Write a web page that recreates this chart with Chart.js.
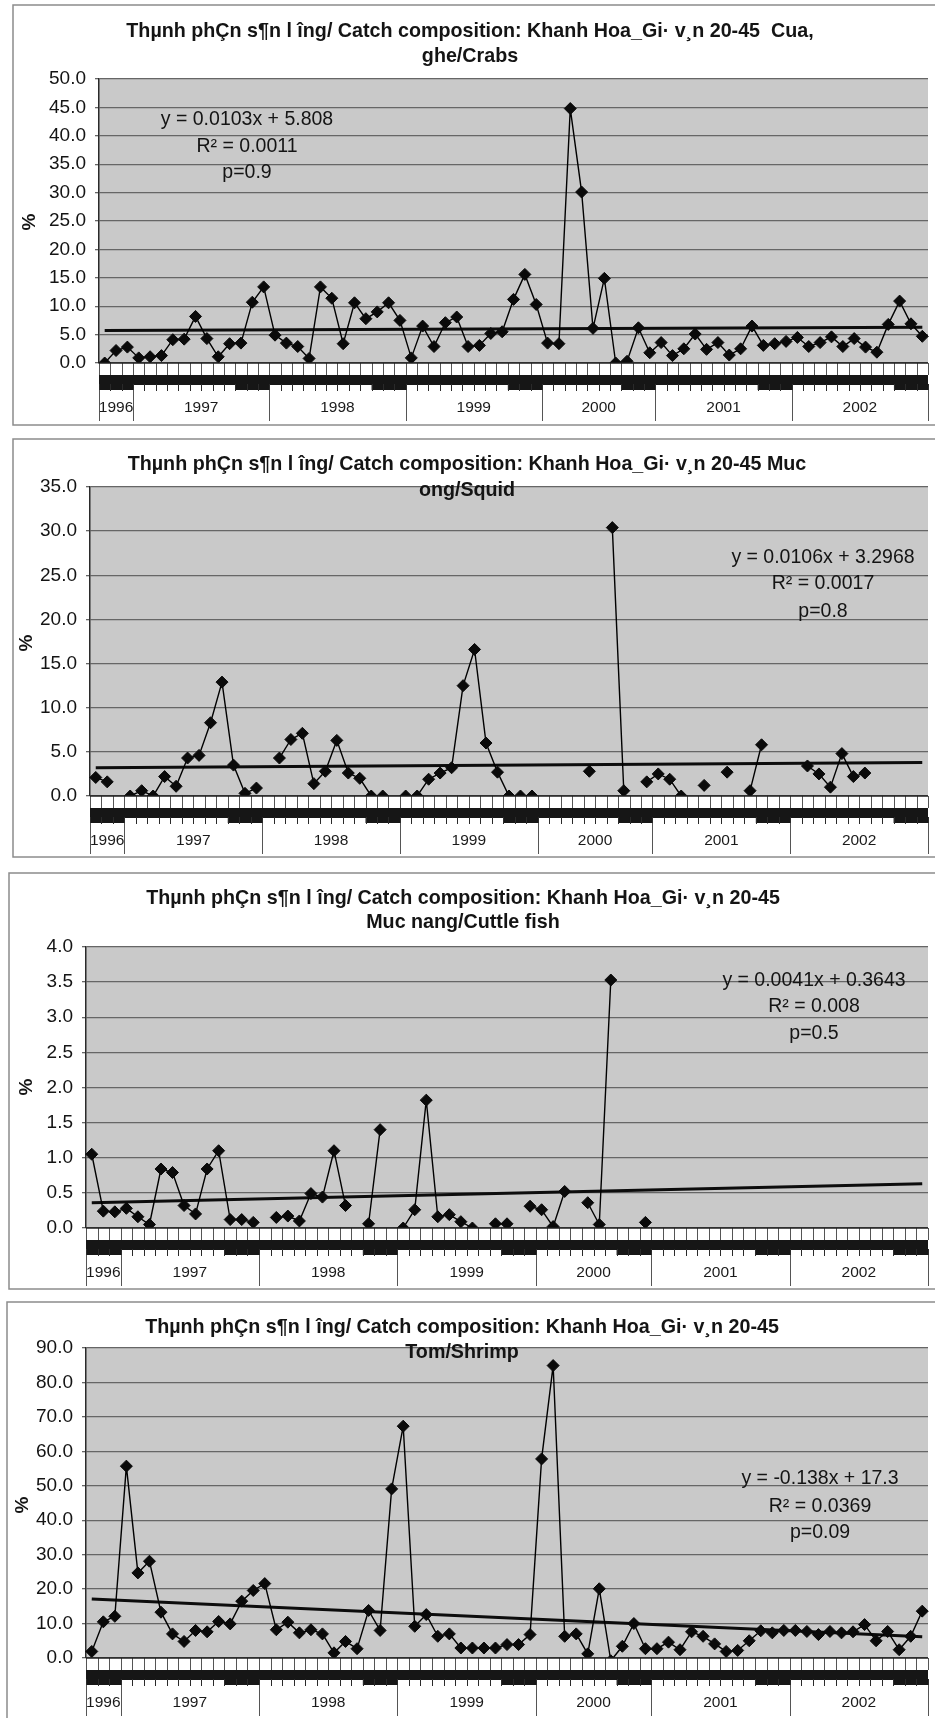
<!DOCTYPE html>
<html>
<head>
<meta charset="utf-8">
<script src="https://cdn.jsdelivr.net/npm/chart.js@4/dist/chart.umd.min.js"></script>
<style>
  html, body { margin: 0; padding: 0; background: #fff; width: 935px; height: 1718px; overflow: hidden; }
  canvas { position: absolute; left: 0; }
</style>
</head>
<body>
<canvas id="c1" width="935" height="430" style="top:0px"></canvas>
<canvas id="c2" width="935" height="432" style="top:430px"></canvas>
<canvas id="c3" width="935" height="433" style="top:862px"></canvas>
<canvas id="c4" width="935" height="423" style="top:1295px"></canvas>
<script>
// ---------- DATA ----------
const years = ['1996', '1997', '1998', '1999', '2000', '2001', '2002'];
const monthsByYear = [
  [10, 11, 12],
  [1, 2, 3, 4, 5, 6, 7, 8, 9, 10, 11, 12],
  [1, 2, 3, 4, 5, 6, 7, 8, 9, 10, 11, 12],
  [1, 2, 3, 4, 5, 6, 7, 8, 9, 10, 11, 12],
  [1, 2, 3, 4, 5, 6, 7, 10, 11, 12],
  [1, 2, 3, 4, 5, 6, 7, 8, 9, 10, 11, 12],
  [1, 2, 3, 4, 5, 6, 7, 8, 9, 10, 11, 12]
];

const crabs = [
  0.0, 2.2, 2.8, 0.9, 1.1, 1.3, 4.1, 4.2, 8.2, 4.3,
  1.1, 3.4, 3.5, 10.7, 13.4, 4.9, 3.5, 2.9, 0.8, 13.4,
  11.4, 3.4, 10.6, 7.8, 9.0, 10.6, 7.5, 0.9, 6.5, 2.9,
  7.1, 8.1, 2.9, 3.1, 5.2, 5.5, 11.2, 15.6, 10.3, 3.5,
  3.4, 44.8, 30.1, 6.1, 14.9, 0.0, 0.3, 6.2, 1.8, 3.6,
  1.3, 2.5, 5.1, 2.4, 3.6, 1.4, 2.5, 6.5, 3.1, 3.4,
  3.8, 4.5, 2.9, 3.6, 4.6, 2.9, 4.3, 2.8, 1.9, 6.8,
  10.9, 6.9, 4.7
];
const squid = [
  2.1, 1.6, null, 0.0, 0.6, 0.0, 2.2, 1.1, 4.3, 4.6,
  8.3, 12.9, 3.5, 0.3, 0.9, null, 4.3, 6.4, 7.1, 1.4,
  2.8, 6.3, 2.6, 2.0, 0.0, 0.0, null, 0.0, 0.0, 1.9,
  2.6, 3.2, 12.5, 16.6, 6.0, 2.7, 0.0, 0.0, 0.0, null,
  null, null, null, 2.8, null, 30.4, 0.6, null, 1.6, 2.5,
  1.9, 0.0, null, 1.2, null, 2.7, null, 0.6, 5.8, null,
  null, null, 3.4, 2.5, 1.0, 4.8, 2.2, 2.6, null, null,
  null, null, null
];
const cuttle = [
  1.05, 0.24, 0.23, 0.28, 0.16, 0.05, 0.84, 0.79, 0.32, 0.20,
  0.84, 1.10, 0.12, 0.12, 0.08, null, 0.15, 0.17, 0.10, 0.49,
  0.44, 1.10, 0.32, null, 0.06, 1.40, null, 0.00, 0.26, 1.82,
  0.16, 0.19, 0.09, 0.00, null, 0.06, 0.06, null, 0.31, 0.26,
  0.02, 0.52, null, 0.36, 0.05, 3.53, null, null, 0.08, null,
  null, null, null, null, null, null, null, null, null, null,
  null, null, null, null, null, null, null, null, null, null,
  null, null, null
];
const shrimp = [
  1.9, 10.5, 12.1, 55.7, 24.7, 28.1, 13.3, 7.0, 4.8, 8.0,
  7.6, 10.6, 9.9, 16.5, 19.6, 21.6, 8.2, 10.4, 7.3, 8.2,
  7.0, 1.5, 4.8, 2.7, 13.8, 8.0, 49.1, 67.3, 9.2, 12.6,
  6.3, 7.0, 2.9, 2.9, 2.9, 2.9, 3.9, 3.9, 6.8, 57.8,
  84.9, 6.3, 7.0, 1.2, 20.1, -0.8, 3.4, 10.0, 2.7, 2.7,
  4.6, 2.4, 7.6, 6.3, 4.1, 1.9, 2.2, 5.0, 7.9, 7.3,
  8.0, 8.0, 7.7, 6.8, 7.7, 7.3, 7.6, 9.7, 5.0, 7.7,
  2.4, 6.3, 13.6
];

// linear trend line end values (first and last month), as drawn
const trendCrabs = [5.7, 6.3];
const trendSquid = [3.2, 3.8];
const trendCuttle = [0.36, 0.63];
const trendShrimp = [17.1, 6.2];

const titleHead = 'Thµnh phÇn s¶n l îng/ Catch composition: Khanh Hoa_Gi· v¸n 20-45';
const titles = [
  [titleHead + '  Cua,', 'ghe/Crabs'],
  [titleHead + ' Muc', 'ong/Squid'],
  [titleHead, 'Muc nang/Cuttle fish'],
  [titleHead, 'Tom/Shrimp']
];
const equations = [
  ['y = 0.0103x + 5.808', 'R² = 0.0011', 'p=0.9'],
  ['y = 0.0106x + 3.2968', 'R² = 0.0017', 'p=0.8'],
  ['y = 0.0041x + 0.3643', 'R² = 0.008', 'p=0.5'],
  ['y = -0.138x + 17.3', 'R² = 0.0369', 'p=0.09']
];
const yMax = [50, 35, 4, 90];
const yStep = [5, 5, 0.5, 10];
const yLabel = '%';

// ---------- BUILD ----------
const categories = [];
const catMonth = [];
years.forEach((y, k) => monthsByYear[k].forEach(m => { categories.push(m + '/' + y); catMonth.push(m); }));
const N = categories.length;

function trendData(t) {
  const d = new Array(N).fill(null);
  d[0] = t[0]; d[N - 1] = t[1];
  return d;
}

const FONT = "Arial, 'Liberation Sans', sans-serif";

const layouts = [
  { W: 935, H: 430, box: [13, 5, 945, 425], plot: [99, 79, 933, 363], titleX: 470, titleY: [32, 57],
    eqX: 247, eqY: [120, 147, 173], pctX: 30, pctY: 222 },
  { W: 935, H: 432, box: [13, 9, 945, 427], plot: [90, 57, 933, 366], titleX: 467, titleY: [35, 61],
    eqX: 823, eqY: [128, 154, 182], pctX: 27, pctY: 213 },
  { W: 935, H: 433, box: [9, 11, 945, 427], plot: [86, 85, 928, 366], titleX: 463, titleY: [37, 61],
    eqX: 814, eqY: [119, 145, 172], pctX: 27, pctY: 225 },
  { W: 935, H: 423, box: [7, 7, 945, 460], plot: [86, 53, 931, 363], titleX: 462, titleY: [33, 58],
    eqX: 820, eqY: [184, 212, 238], pctX: 23, pctY: 210 }
];

function makeDecor(idx) {
  const L = layouts[idx];
  return {
    id: 'decor' + idx,
    beforeDraw(chart) {
      const ctx = chart.ctx, a = chart.chartArea;
      ctx.save();
      ctx.fillStyle = '#ffffff';
      ctx.fillRect(0, 0, chart.width, chart.height);
      ctx.strokeStyle = '#8c8c8c';
      ctx.lineWidth = 1.5;
      ctx.strokeRect(L.box[0], L.box[1], L.box[2] - L.box[0], L.box[3] - L.box[1]);
      ctx.fillStyle = '#c9c9c9';
      ctx.fillRect(a.left, a.top, a.right - a.left, a.bottom - a.top);
      ctx.restore();
    },
    afterDraw(chart) {
      const ctx = chart.ctx, a = chart.chartArea, xs = chart.scales.x;
      const w = xs.getPixelForValue(1) - xs.getPixelForValue(0);
      const bnd = i => xs.getPixelForValue(i) - w / 2;
      const B = a.bottom;
      ctx.save();
      // tick row
      ctx.fillStyle = '#ffffff';
      ctx.fillRect(a.left, B, a.right - a.left, 12);
      ctx.strokeStyle = '#555';
      ctx.lineWidth = 1;
      for (let i = 0; i <= N; i++) {
        const x = Math.round(bnd(i)) + 0.5;
        ctx.beginPath(); ctx.moveTo(x, B); ctx.lineTo(x, B + 12); ctx.stroke();
      }
      // axis line
      ctx.strokeStyle = '#1e1e1e';
      ctx.lineWidth = 1.5;
      ctx.beginPath(); ctx.moveTo(a.left, B); ctx.lineTo(a.right, B); ctx.stroke();
      // month label band
      ctx.fillStyle = '#161616';
      ctx.fillRect(a.left, B + 12, a.right - a.left, 10);
      for (let i = 0; i < N; i++) {
        if (catMonth[i] >= 10) {
          ctx.fillRect(bnd(i), B + 21, w + 0.5, 6);
        }
      }
      ctx.strokeStyle = '#2a2a2a';
      ctx.lineWidth = 1;
      for (let i = 0; i <= N; i++) {
        const x = Math.round(bnd(i)) + 0.5;
        ctx.beginPath(); ctx.moveTo(x, B + 21); ctx.lineTo(x, B + 28); ctx.stroke();
      }
      // year groups
      ctx.strokeStyle = '#555';
      ctx.fillStyle = '#1a1a1a';
      ctx.font = '15.5px ' + FONT;
      ctx.textAlign = 'center';
      ctx.textBaseline = 'middle';
      let start = 0;
      const sep = i => { const x = Math.round(bnd(i)) + 0.5; ctx.beginPath(); ctx.moveTo(x, B + 27); ctx.lineTo(x, B + 58); ctx.stroke(); };
      sep(0);
      years.forEach((y, k) => {
        const end = start + monthsByYear[k].length;
        sep(end);
        ctx.fillText(y, (bnd(start) + bnd(end)) / 2, B + 45);
        start = end;
      });
      // title
      ctx.fillStyle = '#141414';
      ctx.font = 'bold 19.7px ' + FONT;
      titles[idx].forEach((t, k) => ctx.fillText(t, L.titleX, L.titleY[k]));
      // equation
      ctx.font = '19.5px ' + FONT;
      equations[idx].forEach((t, k) => ctx.fillText(t, L.eqX, L.eqY[k]));
      // y axis title
      ctx.translate(L.pctX, L.pctY);
      ctx.rotate(-Math.PI / 2);
      ctx.font = 'bold 19px ' + FONT;
      ctx.fillText(yLabel, 0, 0);
      ctx.restore();
    }
  };
}

const seriesList = [crabs, squid, cuttle, shrimp];
const trendList = [trendCrabs, trendSquid, trendCuttle, trendShrimp];

seriesList.forEach((series, idx) => {
  const L = layouts[idx];
  new Chart(document.getElementById('c' + (idx + 1)), {
    type: 'line',
    data: {
      labels: categories,
      datasets: [
        {
          data: series,
          borderColor: '#000',
          borderWidth: 1.4,
          pointStyle: 'rectRot',
          pointRadius: 6,
          pointHoverRadius: 6,
          pointBackgroundColor: '#0a0a0a',
          pointBorderColor: '#0a0a0a',
          pointBorderWidth: 1,
          tension: 0,
          spanGaps: false,
          clip: false
        },
        {
          data: trendData(trendList[idx]),
          borderColor: '#0c0c0c',
          borderWidth: 3,
          pointRadius: 0,
          pointHoverRadius: 0,
          tension: 0,
          spanGaps: true,
          clip: false
        }
      ]
    },
    options: {
      responsive: false,
      animation: false,
      devicePixelRatio: 1,
      events: [],
      layout: { padding: { left: 0, top: L.plot[1], right: L.W - L.plot[2], bottom: L.H - L.plot[3] } },
      plugins: { legend: { display: false }, tooltip: { enabled: false }, title: { display: false } },
      scales: {
        x: { display: false, offset: true },
        y: {
          min: 0,
          max: yMax[idx],
          afterFit: s => { s.width = L.plot[0]; },
          ticks: {
            stepSize: yStep[idx],
            callback: v => Number(v).toFixed(1),
            font: { size: 19, family: FONT },
            color: '#141414',
            padding: 9
          },
          grid: { color: '#666666', lineWidth: 1.3, tickLength: 4 },
          border: { color: '#2a2a2a', width: 1.5 }
        }
      }
    },
    plugins: [makeDecor(idx)]
  });
});
</script>
</body>
</html>
